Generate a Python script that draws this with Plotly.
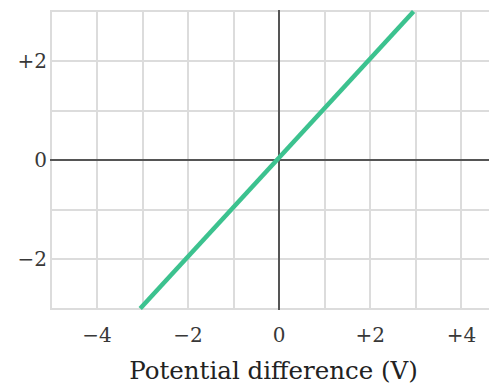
import plotly.graph_objects as go

# Data
line_x = [-3.05, 2.95]
line_y = [-3.0, 3.0]
x_ticks = [-5, -4, -3, -2, -1, 0, 1, 2, 3, 4, 5]
x_labels = ["", "\u22124", "", "\u22122", "", "0", "", "+2", "", "+4", ""]
y_ticks = [-3, -2, -1, 0, 1, 2, 3]
y_labels = ["", "\u22122", "", "0", "", "+2", ""]

font_family = "DejaVu Serif, serif"

fig = go.Figure()
fig.add_trace(go.Scatter(x=line_x, y=line_y, mode="lines",
                         line=dict(color="#3cc28f", width=4.5),
                         hoverinfo="skip", showlegend=False, cliponaxis=True))

# page body adds an 8px offset, so the figure is 8px smaller and margins shifted
fig.update_layout(
    width=489, height=377,
    margin=dict(l=42, r=0, t=2, b=75, autoexpand=False),
    paper_bgcolor="white", plot_bgcolor="white",
    font=dict(family=font_family, size=20, color="#383838"),
    xaxis=dict(range=[-5.03, 4.78], tickvals=x_ticks, ticktext=x_labels,
               showgrid=True, gridcolor="#dcdcdc", gridwidth=1.5,
               zeroline=True, zerolinecolor="#555555", zerolinewidth=1.8,
               showline=False, ticks="", ticklabelstandoff=11, automargin=False,
               title=dict(text="Potential difference (V)", standoff=17,
                          font=dict(family=font_family, size=24.5, color="#222222"))),
    yaxis=dict(range=[-3.03, 3.03], tickvals=y_ticks, ticktext=y_labels,
               showgrid=True, gridcolor="#dcdcdc", gridwidth=1.5,
               zeroline=True, zerolinecolor="#555555", zerolinewidth=1.8,
               showline=False, ticks="", ticklabelstandoff=2, automargin=False),
)

fig.write_html("out.html")
